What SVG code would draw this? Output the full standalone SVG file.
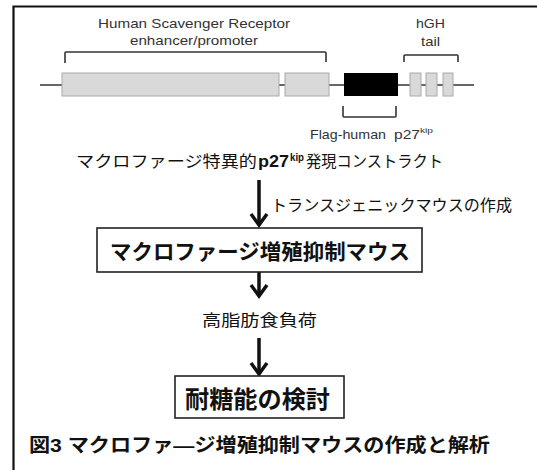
<svg xmlns="http://www.w3.org/2000/svg" width="537" height="470" viewBox="0 0 537 470">
<defs>
<style>
.lat{font-family:"Liberation Sans",Arial,sans-serif;fill:#333}
.jp{font-family:"Liberation Sans","Noto Sans CJK JP",sans-serif;fill:#111}
.b{font-weight:bold}
.exon{fill:#d9d9d9;stroke:#aaa;stroke-width:1}
.brk{fill:none;stroke:#333;stroke-width:1.6}
.box{fill:#fff;stroke:#222;stroke-width:1.6}
.arr{fill:none;stroke:#111;stroke-width:3.5}
</style>
<marker id="chev" viewBox="-14 -11 16 22" refX="0" refY="0" markerWidth="16" markerHeight="22" markerUnits="userSpaceOnUse" orient="auto" overflow="visible">
<path d="M-11,-8 L0,0 L-11,8" fill="none" stroke="#111" stroke-width="3.5"/>
</marker>
</defs>
<rect width="537" height="470" fill="#fff"/>
<path d="M13.5,470 V6.5 H537" fill="none" stroke="#111" stroke-width="2.2"/>

<g id="construct">
<line x1="40" y1="85" x2="474" y2="85" stroke="#333" stroke-width="1.6"/>
<rect class="exon" x="62" y="73" width="217" height="23"/>
<rect class="exon" x="285" y="73" width="44" height="23"/>
<rect x="344" y="73" width="54" height="23" fill="#000"/>
<rect class="exon" x="410" y="73" width="11" height="23"/>
<rect class="exon" x="426" y="73" width="11" height="23"/>
<rect class="exon" x="443" y="73" width="10" height="23"/>
<path class="brk" d="M65,63 V53 Q65,52 66,52 H325 Q326,52 326,53 V62"/>
<path class="brk" d="M404,62 V56 Q404,55 405,55 H457 Q458,55 458,56 V62"/>
<path class="brk" d="M343,106 V116 Q343,117 344,117 H395 Q396,117 396,116 V106"/>
<text class="lat" x="98" y="28" font-size="13" textLength="192" lengthAdjust="spacingAndGlyphs">Human Scavenger Receptor</text>
<text class="lat" x="130" y="45" font-size="13" textLength="128" lengthAdjust="spacingAndGlyphs">enhancer/promoter</text>
<text class="lat" x="416" y="28" font-size="13" textLength="29" lengthAdjust="spacingAndGlyphs">hGH</text>
<text class="lat" x="421" y="46" font-size="13" textLength="19" lengthAdjust="spacingAndGlyphs">tail</text>
<text class="lat" x="310" y="139" font-size="13" textLength="76" lengthAdjust="spacingAndGlyphs">Flag-human</text>
<text class="lat" x="394" y="139" font-size="13" textLength="26" lengthAdjust="spacingAndGlyphs">p27</text>
<text class="lat" x="420" y="133" font-size="8" textLength="13" lengthAdjust="spacingAndGlyphs">kip</text>
</g>

<g id="construct-label">
<text class="jp" x="76" y="167" font-size="16" textLength="181" lengthAdjust="spacingAndGlyphs">マクロファージ特異的</text>
<text class="jp b" x="258" y="167" font-size="16" textLength="31" lengthAdjust="spacingAndGlyphs">p27</text>
<text class="jp b" x="290" y="161" font-size="10" textLength="14" lengthAdjust="spacingAndGlyphs">kip</text>
<text class="jp" x="306" y="167" font-size="16" textLength="137" lengthAdjust="spacingAndGlyphs">発現コンストラクト</text>
</g>

<g id="connectors">
<line class="arr" x1="259" y1="180" x2="259" y2="225" marker-end="url(#chev)"/>
<line class="arr" x1="259" y1="272" x2="259" y2="296" marker-end="url(#chev)"/>
<line class="arr" x1="259" y1="338" x2="259" y2="374" marker-end="url(#chev)"/>
<text class="jp" x="271" y="211" font-size="16" textLength="241" lengthAdjust="spacingAndGlyphs">トランスジェニックマウスの作成</text>
<text class="jp" x="202" y="326" font-size="16" textLength="115" lengthAdjust="spacingAndGlyphs">高脂肪食負荷</text>
</g>

<g id="mouse">
<rect class="box" x="97" y="228" width="325" height="44"/>
<text class="jp b" x="110" y="259" font-size="21" textLength="300" lengthAdjust="spacingAndGlyphs">マクロファージ増殖抑制マウス</text>
</g>

<g id="glucose">
<rect class="box" x="175" y="376" width="169" height="42"/>
<text class="jp b" x="185" y="408" font-size="24" textLength="145" lengthAdjust="spacingAndGlyphs">耐糖能の検討</text>
</g>

<g id="caption">
<text class="jp b" x="29" y="452" font-size="19" textLength="461" lengthAdjust="spacingAndGlyphs">図3 マクロファ―ジ増殖抑制マウスの作成と解析</text>
</g>
</svg>
